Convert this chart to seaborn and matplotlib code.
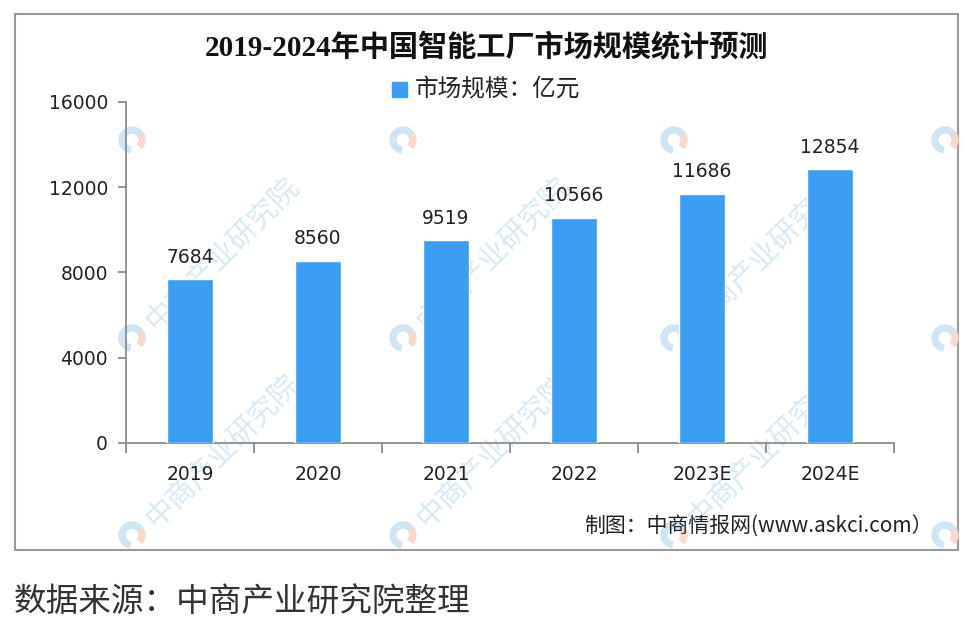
import matplotlib
matplotlib.use('Agg')
import matplotlib.pyplot as plt
import seaborn as sns
import pandas as pd
from matplotlib.patches import Rectangle, Wedge

# 数据
years = ['2019', '2020', '2021', '2022', '2023E', '2024E']
market_size = [7684, 8560, 9519, 10566, 11686, 12854]
y_ticks = [0, 4000, 8000, 12000, 16000]

title = '2019-2024年中国智能工厂市场规模统计预测'
legend_label = '市场规模：亿元'
credit = '制图：中商情报网(www.askci.com）'
source = '数据来源：中商产业研究院整理'
watermark = '中商产业研究院'

sns.set_style('white')
plt.rcParams['font.family'] = ['DejaVu Sans', 'Noto Sans CJK SC']

df = pd.DataFrame({'year': years, 'size': market_size})

fig = plt.figure(figsize=(9.66, 6.33), dpi=100)

# 背景层：水印、边框（像素坐标）
bg = fig.add_axes([0, 0, 1, 1], zorder=-1)
bg.set_xlim(0, 966)
bg.set_ylim(633, 0)
bg.axis('off')
bg.add_patch(Rectangle((15, 14), 943, 536, fill=False, edgecolor='#9a9a9a', linewidth=1.5))
for ly in [140, 338, 535]:
    for lx in [132, 403, 674, 945]:
        bg.add_patch(Wedge((lx, ly), 13, 100, 330, width=6, color='#cfe5f3'))
        bg.add_patch(Wedge((lx, ly), 13, 330, 400, width=6, color='#f8d9cc'))
        # 顶行水印文字会超出画面，只画下面两行
        if ly > 200 and lx < 900:
            bg.text(lx + 18, ly - 12, watermark, rotation=45, rotation_mode='anchor',
                    ha='left', va='center', fontsize=21, color='#d6e9f5',
                    family=['Noto Sans CJK SC'])

# 主图
ax = fig.add_axes([0.1304, 0.3002, 0.795, 0.5387])
ax.set_facecolor('none')
sns.barplot(data=df, x='year', y='size', color='#3d9df2', saturation=1,
            width=0.36, ax=ax, zorder=3)
ax.bar_label(ax.containers[0], padding=9, fontsize=13.5, color='#222222')

ax.set_ylim(0, 16000)
ax.set_xlim(-0.5, len(years) - 0.5)
ax.set_yticks(y_ticks)
ax.set_xticks(range(len(years)))
ax.set_xticks([i - 0.5 for i in range(len(years) + 1)], minor=True)
ax.set_xlabel('')
ax.set_ylabel('')

for side in ['top', 'right']:
    ax.spines[side].set_visible(False)
for side in ['left', 'bottom']:
    ax.spines[side].set_color('#8c8c8c')
    ax.spines[side].set_linewidth(1.3)

ax.tick_params(axis='y', direction='out', length=6, width=1.3, color='#8c8c8c',
               left=True, pad=7, labelsize=13.5, labelcolor='#222222')
ax.tick_params(axis='x', which='major', length=0, pad=16, labelsize=13.5,
               labelcolor='#222222')
ax.tick_params(axis='x', which='minor', direction='out', length=7, width=1.3,
               color='#8c8c8c', bottom=True)

# 标题
fig.text(487 / 966, 1 - 47 / 633, title, ha='center', va='center', fontsize=21,
         fontweight='bold', family=['Liberation Serif', 'Noto Sans CJK SC'], color='#111111')

# 图例
bg.add_patch(Rectangle((392, 82), 15, 15, color='#3d9df2'))
bg.text(415, 89.5, legend_label, ha='left', va='center', fontsize=17,
        family=['Noto Sans CJK SC'], color='#222222')

# 制图说明
bg.text(584, 527, credit, ha='left', va='center', fontsize=15,
        family=['Noto Sans CJK SC'], color='#222222')

# 数据来源
bg.text(14, 602, source, ha='left', va='center', fontsize=23.5,
        family=['Noto Sans CJK SC'], color='#333333')

fig.savefig('out.png', dpi=100)
